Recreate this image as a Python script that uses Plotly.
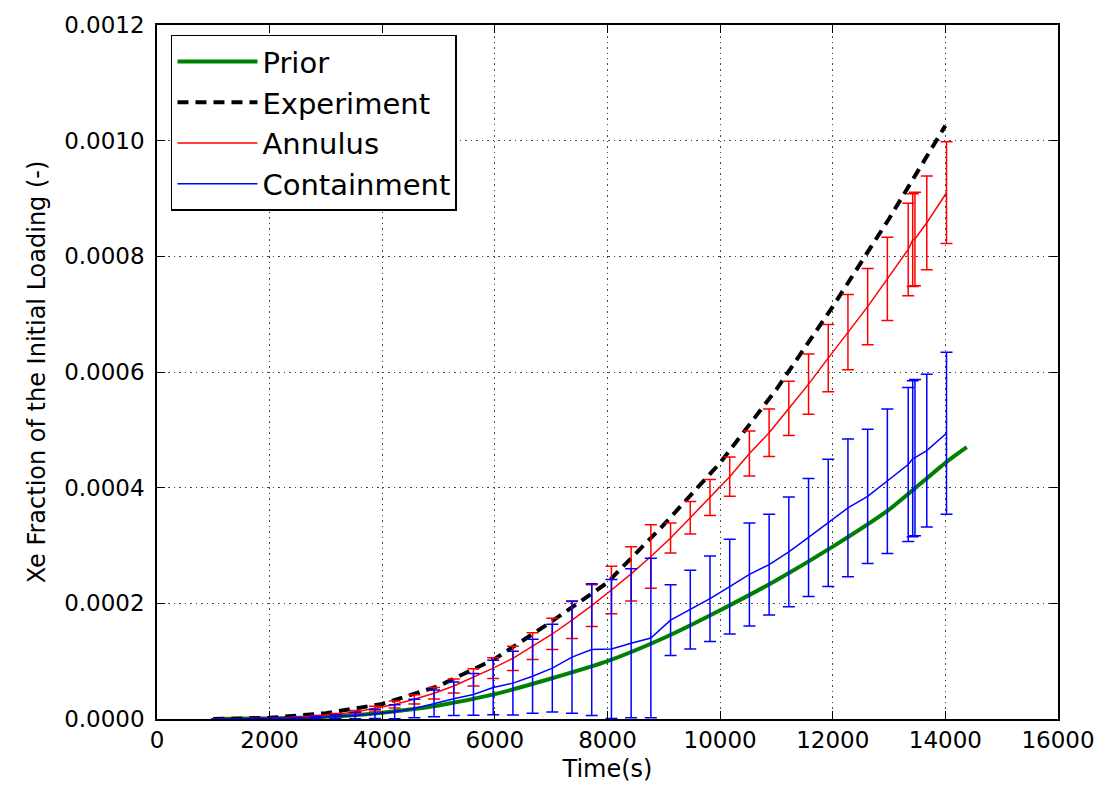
import numpy as np
import plotly.graph_objects as go

# Values are given in units of 1e-4 (fraction of initial loading)
SCALE = 1e-4

# Simulation output times (s) shared by the Annulus and Containment series
sim_time = [1070, 1420, 1770, 2120, 2470, 2820, 3170, 3520, 3870, 4220,
            4570, 4920, 5270, 5620, 5970, 6320, 6670, 7020, 7370, 7720,
            8070, 8420, 8770, 9120, 9470, 9820, 10170, 10520, 10870, 11220,
            11570, 11920, 12270, 12620, 12970, 13340, 13420, 13460, 13670, 14020]

annulus_mean = [0.0, 0.003, 0.008, 0.016, 0.03, 0.05, 0.08, 0.12, 0.18, 0.25,
                0.34, 0.445, 0.57, 0.72, 0.88, 1.05, 1.26, 1.47, 1.71, 1.96,
                2.23, 2.51, 2.81, 3.13, 3.48, 3.83, 4.19, 4.59, 4.95, 5.37,
                5.79, 6.24, 6.69, 7.13, 7.61, 8.12, 8.28, 8.30, 8.58, 9.10]
annulus_err = [0.0, 0.001, 0.002, 0.004, 0.007, 0.011, 0.017, 0.025, 0.04, 0.06,
               0.08, 0.10, 0.12, 0.15, 0.18, 0.21, 0.23, 0.27, 0.32, 0.36,
               0.41, 0.47, 0.55, 0.26, 0.28, 0.31, 0.34, 0.39, 0.41, 0.47,
               0.52, 0.58, 0.65, 0.66, 0.72, 0.80, 0.80, 0.81, 0.81, 0.88]

containment_mean = [0.0, 0.002, 0.004, 0.008, 0.015, 0.025, 0.04, 0.06, 0.09, 0.125,
                    0.18, 0.27, 0.35, 0.425, 0.545, 0.62, 0.74, 0.88, 1.07, 1.20,
                    1.21, 1.31, 1.40, 1.71, 1.89, 2.08, 2.29, 2.50, 2.67, 2.89,
                    3.14, 3.39, 3.65, 3.85, 4.11, 4.40, 4.50, 4.52, 4.64, 4.94]
containment_err = [0.0, 0.002, 0.004, 0.007, 0.013, 0.022, 0.035, 0.055, 0.08, 0.12,
                   0.16, 0.23, 0.29, 0.36, 0.47, 0.55, 0.64, 0.76, 0.97, 1.14,
                   1.20, 1.29, 1.38, 0.61, 0.68, 0.74, 0.82, 0.89, 0.87, 0.95,
                   1.02, 1.10, 1.19, 1.16, 1.25, 1.33, 1.35, 1.35, 1.32, 1.40]

prior_time = [1000, 2000, 3000, 4000, 5000, 6000, 7000, 8000, 9000, 10000,
              11000, 12000, 13000, 14000, 14380]
prior_val = [0.0, 0.01, 0.04, 0.11, 0.235, 0.43, 0.70, 1.00, 1.40, 1.88,
             2.40, 2.98, 3.62, 4.43, 4.70]

exp_time = [1000, 2000, 3000, 4000, 5000, 6000, 7000, 8000, 9000, 10000,
            11000, 12000, 13000, 14000]
exp_val = [0.0, 0.02, 0.10, 0.26, 0.57, 1.04, 1.68, 2.36, 3.36, 4.43,
           5.70, 7.13, 8.65, 10.26]

x_ticks = [0, 2000, 4000, 6000, 8000, 10000, 12000, 14000, 16000]
y_ticks = [0.0, 0.0002, 0.0004, 0.0006, 0.0008, 0.0010, 0.0012]


def scaled(v):
    return np.asarray(v, dtype=float) * SCALE


FONT = "DejaVu Sans, Bitstream Vera Sans, Liberation Sans, sans-serif"

fig = go.Figure()

fig.add_trace(go.Scatter(
    x=prior_time, y=scaled(prior_val), name="Prior", mode="lines",
    line=dict(color="#008000", width=4, shape="spline", smoothing=0.6),
))
fig.add_trace(go.Scatter(
    x=exp_time, y=scaled(exp_val), name="Experiment", mode="lines",
    line=dict(color="black", width=4, dash="11px,7px"),
))
fig.add_trace(go.Scatter(
    x=sim_time, y=scaled(annulus_mean), name="Annulus", mode="lines",
    line=dict(color="#ff0000", width=1.5),
    error_y=dict(type="data", array=scaled(annulus_err), visible=True,
                 color="#ff0000", thickness=1.5, width=6),
))
fig.add_trace(go.Scatter(
    x=sim_time, y=scaled(containment_mean), name="Containment", mode="lines",
    line=dict(color="#0000ff", width=1.5),
    error_y=dict(type="data", array=scaled(containment_err), visible=True,
                 color="#0000ff", thickness=1.5, width=6),
))

axis_common = dict(
    showline=True, linecolor="black", linewidth=1.5, mirror="ticks",
    ticks="inside", ticklen=8, tickwidth=1.2, tickcolor="black",
    showgrid=True, gridcolor="#444444", gridwidth=1, griddash="1.5px,4px",
    zeroline=False,
    tickfont=dict(family=FONT, size=23, color="black"),
    title_font=dict(family=FONT, size=24, color="black"),
)

fig.update_xaxes(
    range=[0, 16000], tickvals=x_ticks,
    ticktext=[str(v) for v in x_ticks],
    title_text="Time(s)", title_standoff=8, **axis_common,
)
fig.update_yaxes(
    range=[0, 0.0012], tickvals=y_ticks,
    ticktext=[f"{v:.4f}" for v in y_ticks],
    title_text="Xe Fraction of the Initial Loading (-)", title_standoff=12,
    ticklabelstandoff=6,
    **axis_common,
)

fig.update_layout(
    width=1107, height=790,
    margin=dict(l=157, r=46, t=20, b=69),
    paper_bgcolor="white", plot_bgcolor="white",
    font=dict(family=FONT, color="black"),
    showlegend=True,
    legend=dict(
        x=0.0155, y=0.986, xanchor="left", yanchor="top",
        bgcolor="white", bordercolor="black", borderwidth=1.5,
        font=dict(family=FONT, size=29, color="black"),
        tracegroupgap=0, itemwidth=80,
        entrywidth=300, entrywidthmode="pixels",
    ),
)

fig.write_html("out.html")
